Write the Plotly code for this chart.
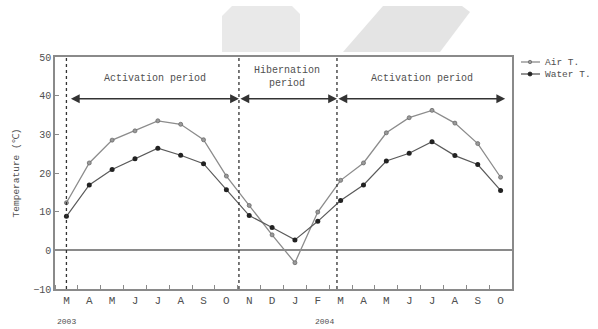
import plotly.graph_objects as go

# Monthly mean temperatures, March 2003 - October 2004
months = ["M", "A", "M", "J", "J", "A", "S", "O", "N", "D",
          "J", "F", "M", "A", "M", "J", "J", "A", "S", "O"]
air_t = [12.3, 22.6, 28.5, 30.9, 33.5, 32.6, 28.6, 19.2, 11.6, 4.0,
         -3.2, 9.9, 18.1, 22.6, 30.4, 34.3, 36.2, 32.9, 27.6, 18.9]
water_t = [8.8, 16.9, 20.9, 23.7, 26.4, 24.6, 22.4, 15.7, 9.0, 5.9,
           2.7, 7.5, 12.9, 16.9, 23.1, 25.1, 28.1, 24.5, 22.2, 15.5]
years = ["2003", "2004"]
y_ticks = [-10, 0, 10, 20, 30, 40, 50]
series_names = ["Air T.", "Water T."]

x_idx = list(range(len(months)))

# period boundaries (month index units)
b0, b1, b2, b_end = 0.0, 7.55, 11.84, 19.2
arrow_y = 39.2

FONT = "Liberation Mono"
TXT = "#505050"
FRAME = "#8a8a8a"
AIR_LINE, AIR_MK, AIR_EDGE = "#8c8c8c", "#9a9a9a", "#6a6a6a"
WAT_LINE, WAT_MK = "#5a5a5a", "#222222"

fig = go.Figure()

fig.add_trace(go.Scatter(
    x=x_idx, y=air_t, name=series_names[0], mode="lines+markers",
    line=dict(color=AIR_LINE, width=1.3),
    marker=dict(symbol="circle", size=4, color=AIR_MK,
                line=dict(color=AIR_EDGE, width=0.8)),
))
fig.add_trace(go.Scatter(
    x=x_idx, y=water_t, name=series_names[1], mode="lines+markers",
    line=dict(color=WAT_LINE, width=1.2),
    marker=dict(symbol="circle", size=5, color=WAT_MK),
))

# pixel -> paper conversion for the plot area (l=55, r=512, t=57, b=289)
def px_x(p):
    return (p - 55) / 457.0

def px_y(p):
    return (289 - p) / 232.0

shapes = []
# dotted period separators
for xb in (b0, b1, b2):
    shapes.append(dict(type="line", xref="x", yref="y", x0=xb, x1=xb,
                       y0=-10, y1=50, line=dict(color="#333333", width=1.3, dash="dot")))

# light emblem at the top of the page
rr = [(222, 52), (222, 16), (232, 6), (292, 6), (300, 14), (300, 52)]
shapes.append(dict(type="path", xref="paper", yref="paper",
                   path="M " + " L ".join(f"{px_x(a):.4f},{px_y(b):.4f}" for a, b in rr) + " Z",
                   fillcolor="#e9e9e9", line=dict(width=0), layer="below"))
pg = [(343, 52), (383, 6), (462, 6), (470, 12), (440, 52)]
shapes.append(dict(type="path", xref="paper", yref="paper",
                   path="M " + " L ".join(f"{px_x(a):.4f},{px_y(b):.4f}" for a, b in pg) + " Z",
                   fillcolor="#e4e4e4", line=dict(width=0), layer="below"))

# compact legend to the right of the frame
legend_rows = [(62, AIR_LINE, AIR_MK, AIR_EDGE, 1.7),
               (74, WAT_LINE, WAT_MK, WAT_MK, 2.0)]
annotations = []
for name, (py, lc, mc, me, r) in zip(series_names, legend_rows):
    shapes.append(dict(type="line", xref="paper", yref="paper",
                       x0=px_x(521), x1=px_x(540), y0=px_y(py), y1=px_y(py),
                       line=dict(color=lc, width=1.3)))
    shapes.append(dict(type="circle", xref="paper", yref="paper",
                       x0=px_x(530 - r), x1=px_x(530 + r),
                       y0=px_y(py + r), y1=px_y(py - r),
                       fillcolor=mc, line=dict(color=me, width=0.8)))
    annotations.append(dict(x=px_x(543), y=px_y(py), xref="paper", yref="paper",
                            xanchor="left", yanchor="middle", text=name,
                            showarrow=False,
                            font=dict(family=FONT, size=9.5, color=TXT)))

# period arrows
for (xs, xe) in ((b0 + 0.13, b1), (b1, b2), (b2, b_end)):
    annotations.append(dict(x=xe, y=arrow_y, ax=xs, ay=arrow_y, xref="x", yref="y",
                            axref="x", ayref="y", text="", showarrow=True,
                            arrowhead=2, arrowsize=1.1, arrowwidth=1.6,
                            arrowcolor="#333333", arrowside="end+start"))

period_font = dict(family=FONT, size=10, color=TXT)
annotations += [
    dict(x=3.86, y=44.4, xref="x", yref="y", text="Activation period",
         showarrow=False, font=period_font),
    dict(x=9.65, y=44.9, xref="x", yref="y", text="Hibernation<br>period",
         showarrow=False, font=period_font),
    dict(x=15.57, y=44.4, xref="x", yref="y", text="Activation period",
         showarrow=False, font=period_font),
]
for label, xp in zip(years, (0, 11.3)):
    annotations.append(dict(x=xp, y=0, xref="x", yref="paper", yanchor="top",
                            yshift=-26, text=label, showarrow=False,
                            font=dict(family=FONT, size=8, color=TXT)))

fig.update_layout(
    width=598, height=329,
    margin=dict(l=55, r=86, t=57, b=40),
    paper_bgcolor="white", plot_bgcolor="white",
    shapes=shapes, annotations=annotations,
    showlegend=False,
    xaxis=dict(range=[-0.5, 19.5], tickvals=x_idx, ticktext=months,
               ticks="", showgrid=False, zeroline=False,
               showline=True, mirror=True, linecolor=FRAME, linewidth=1.6,
               tickfont=dict(family=FONT, size=11, color=TXT),
               minor=dict(ticks="inside", tick0=0.5, dtick=1, ticklen=4,
                          tickcolor=FRAME, tickwidth=1.2, showgrid=False)),
    yaxis=dict(range=[-10, 50], tickvals=y_ticks, ticks="inside", ticklen=4,
               tickcolor=FRAME, showgrid=False,
               zeroline=True, zerolinecolor=FRAME, zerolinewidth=1.6,
               showline=True, mirror=True, linecolor=FRAME, linewidth=1.6,
               tickfont=dict(family=FONT, size=10, color=TXT),
               title=dict(text="Temperature (℃)", standoff=12,
                          font=dict(family=FONT, size=9.5, color=TXT))),
)

fig.write_html("out.html")
